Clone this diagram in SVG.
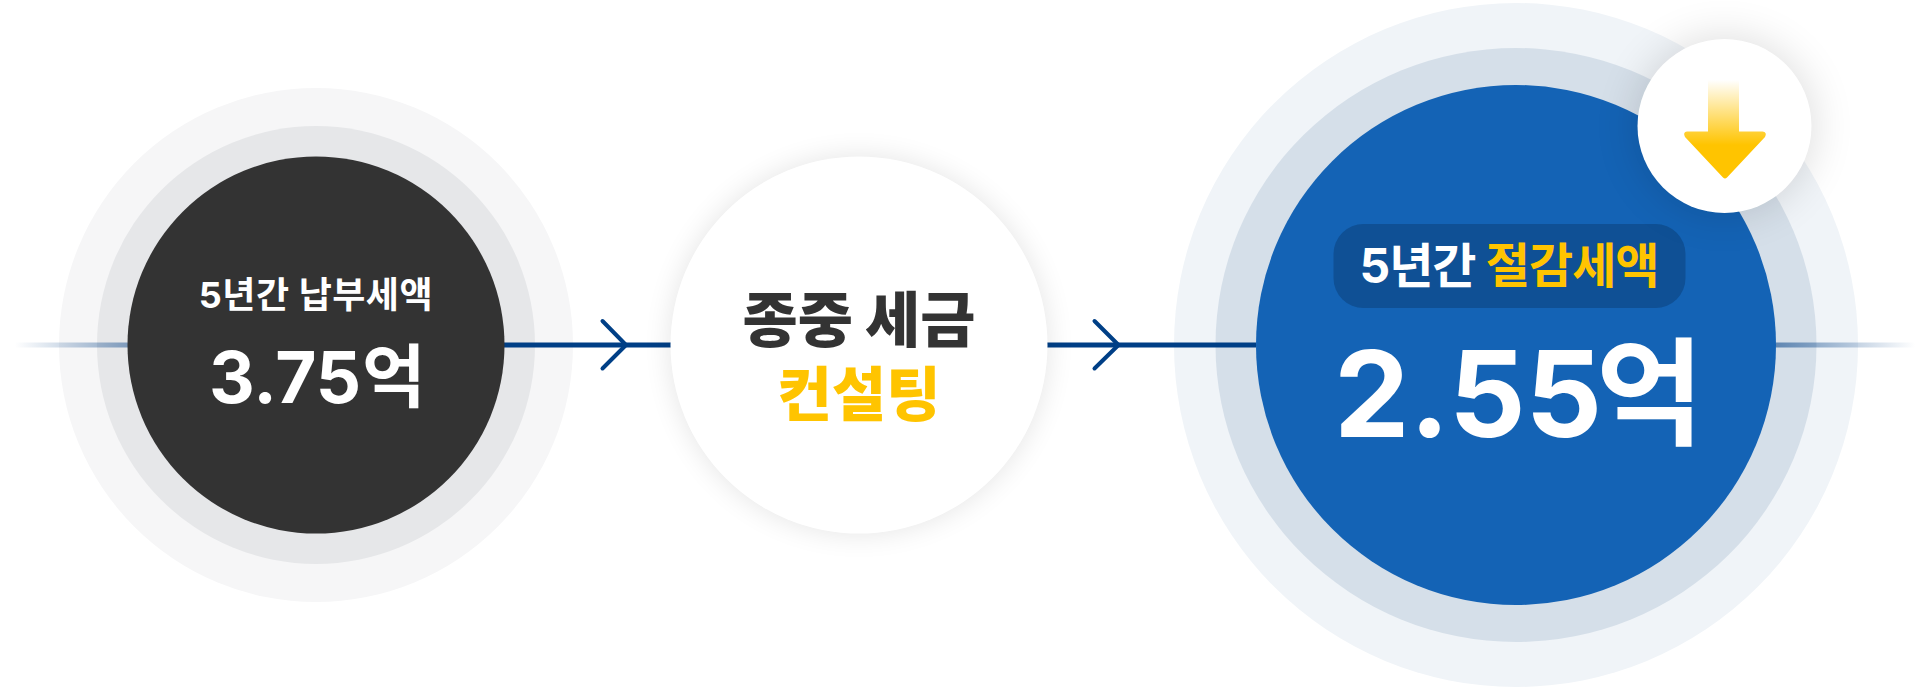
<svg xmlns="http://www.w3.org/2000/svg" width="1919" height="688" viewBox="0 0 1919 688">
<style>
text{font-family:Inter,"Noto Sans CJK KR","Noto Sans",sans-serif;font-weight:700}
.m{text-anchor:middle}
.line{stroke:#003f86;stroke-width:5;fill:none}
.head{stroke:#003f86;stroke-width:4;fill:none;stroke-linecap:round;stroke-linejoin:round}
.w{fill:#fff}.y{fill:#ffc400}.d{fill:#333}
</style>
<defs>
<linearGradient id="fadeL" gradientUnits="userSpaceOnUse" x1="15" y1="0" x2="128" y2="0"><stop offset="0" stop-color="#003f86" stop-opacity="0"/><stop offset="1" stop-color="#003f86" stop-opacity=".45"/></linearGradient>
<linearGradient id="fadeR" gradientUnits="userSpaceOnUse" x1="1776" y1="0" x2="1915" y2="0"><stop offset="0" stop-color="#003f86" stop-opacity=".55"/><stop offset="1" stop-color="#003f86" stop-opacity="0"/></linearGradient>
<linearGradient id="arrowFill" gradientUnits="userSpaceOnUse" x1="0" y1="80" x2="0" y2="145"><stop offset="0" stop-color="#ffc400" stop-opacity="0"/><stop offset="1" stop-color="#ffc400"/></linearGradient>
<filter id="soft" x="-40%" y="-40%" width="180%" height="180%"><feGaussianBlur stdDeviation="14"/></filter>
<filter id="softer" x="-50%" y="-50%" width="200%" height="200%"><feGaussianBlur stdDeviation="22"/></filter>
</defs>
<rect width="1919" height="688" fill="#fff"/>
<g id="node-left-rings"><circle cx="316" cy="345" r="257" fill="#f6f6f7"/><circle cx="316" cy="345" r="219" fill="#e6e7e9"/></g>
<g id="node-right-rings"><circle cx="1516" cy="345" r="342" fill="#f0f4f8"/><ellipse cx="1516" cy="345" rx="300.500" ry="297" fill="#d5dfe9"/></g>
<g id="connectors">
<rect x="15" y="342.500" width="113" height="5" fill="url(#fadeL)"/>
<rect x="1776" y="342.500" width="139" height="5" fill="url(#fadeR)"/>
<path class="line" d="M504 345H671"/>
<path class="head" d="M602.500 321L626 345L602.500 368.500"/>
<path class="line" d="M1047 345H1256"/>
<path class="head" d="M1094.500 321L1118.500 345L1094.500 368.500"/>
</g>
<g id="node-left">
<circle cx="316" cy="345" r="188.500" fill="#333"/>
<text class="w m" x="316" y="308" font-size="36" letter-spacing=".5">5년간 납부세액</text>
<text class="w" x="209" y="403" font-size="71">3.75</text>
<text class="w" x="362" y="401.500" font-size="69">억</text>
</g>
<g id="node-middle">
<circle cx="859" cy="345" r="189" fill="#000" opacity=".1" filter="url(#soft)"/>
<circle cx="859" cy="345" r="188.500" fill="#fff"/>
<text class="d m" x="859" y="342" font-size="60" font-weight="900" style="font-weight:900">종중 세금</text>
<text class="y m" x="859" y="416" font-size="59" style="font-weight:900">컨설팅</text>
</g>
<g id="node-right">
<circle cx="1516" cy="345" r="260" fill="#1463b5"/>
<rect x="1333.500" y="224" width="352" height="84" rx="30" fill="#0f5095"/>
<text class="w m" font-size="48" letter-spacing="-1" y="283" x="1509">5년간 <tspan class="y">절감세액</tspan></text>
<text class="w" x="1334" y="437" font-size="120">2.55</text>
<text class="w" x="1596" y="435.500" font-size="117">억</text>
</g>
<g id="node-badge">
<circle cx="1724.500" cy="126" r="88" fill="#000" opacity=".14" filter="url(#softer)"/>
<circle cx="1724.500" cy="126" r="87" fill="#fff"/>
<path d="M1708 80H1739V131.500H1762.500Q1767.500 132 1765 137L1727 177.500Q1725 179.500 1723 177.500L1685 137Q1682.500 132 1687 131.500H1708Z" fill="url(#arrowFill)"/>
</g>
</svg>
